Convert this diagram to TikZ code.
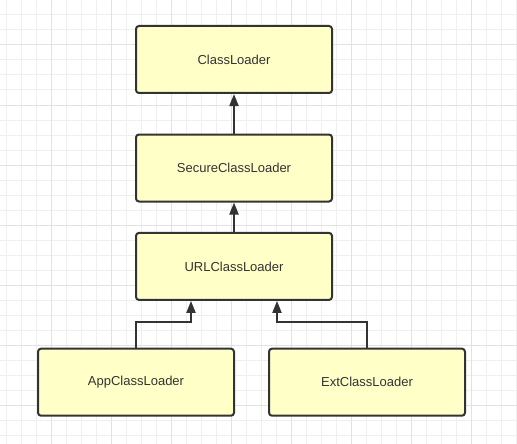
\documentclass[tikz,border=0pt]{standalone}
\usepackage{fontspec}
\setmainfont{Liberation Sans}
\usetikzlibrary{arrows.meta}

\definecolor{gridminor}{HTML}{EFEFEF}
\definecolor{gridmajor}{HTML}{E2E2E2}
\definecolor{boxfill}{HTML}{FFFFC8}
\definecolor{boxline}{HTML}{333333}

\tikzset{
  loader/.style={draw=boxline, line width=2pt, fill=boxfill, rounded corners=3pt,
    minimum width=196pt, minimum height=67pt, inner sep=0pt, text=boxline,
    font=\fontsize{13pt}{15pt}\selectfont},
  inherit/.style={draw=boxline, line width=2pt, -{Triangle[length=12pt,width=9pt]}}
}

\begin{document}
\begin{tikzpicture}[x=1pt,y=-1pt]

    % --- Canvas ---
    \useasboundingbox (0,0) rectangle (517,444);
    \fill[white] (0,0) rectangle (517,444);

    % --- Grid ---
    % Minor lines every 15px, darker lines every 60px
    \foreach \x in {6.7,21.7,...,516.7}
        \draw[gridminor, line width=1pt] (\x,0) -- (\x,444);
    \foreach \y in {15,30,...,435}
        \draw[gridminor, line width=1pt] (0,\y) -- (517,\y);
    \foreach \x in {51.7,111.7,...,471.7}
        \draw[gridmajor, line width=1pt] (\x,0) -- (\x,444);
    \foreach \y in {45,105,...,405}
        \draw[gridmajor, line width=1pt] (0,\y) -- (517,\y);

    % --- Class loaders ---
    \node[loader] (classloader) at (234,59.5) {ClassLoader};
    \node[loader] (secure) at (234,168) {SecureClassLoader};
    \node[loader] (url) at (234,266.4) {URLClassLoader};
    \node[loader] (app) at (136,382.2) {AppClassLoader};
    \node[loader] (ext) at (367,382.2) {ExtClassLoader};

    % --- Entry points on URLClassLoader ---
    \coordinate (appin) at ([xshift=-43pt]url.south);
    \coordinate (extin) at ([xshift=43pt]url.south);

    % --- Inheritance arrows ---
    \draw[inherit] (secure.north) -- (classloader.south);
    \draw[inherit] (url.north) -- (secure.south);
    \draw[inherit] (app.north) -- ++(0,-26) -| (appin);
    \draw[inherit] (ext.north) -- ++(0,-26) -| (extin);

\end{tikzpicture}
\end{document}
